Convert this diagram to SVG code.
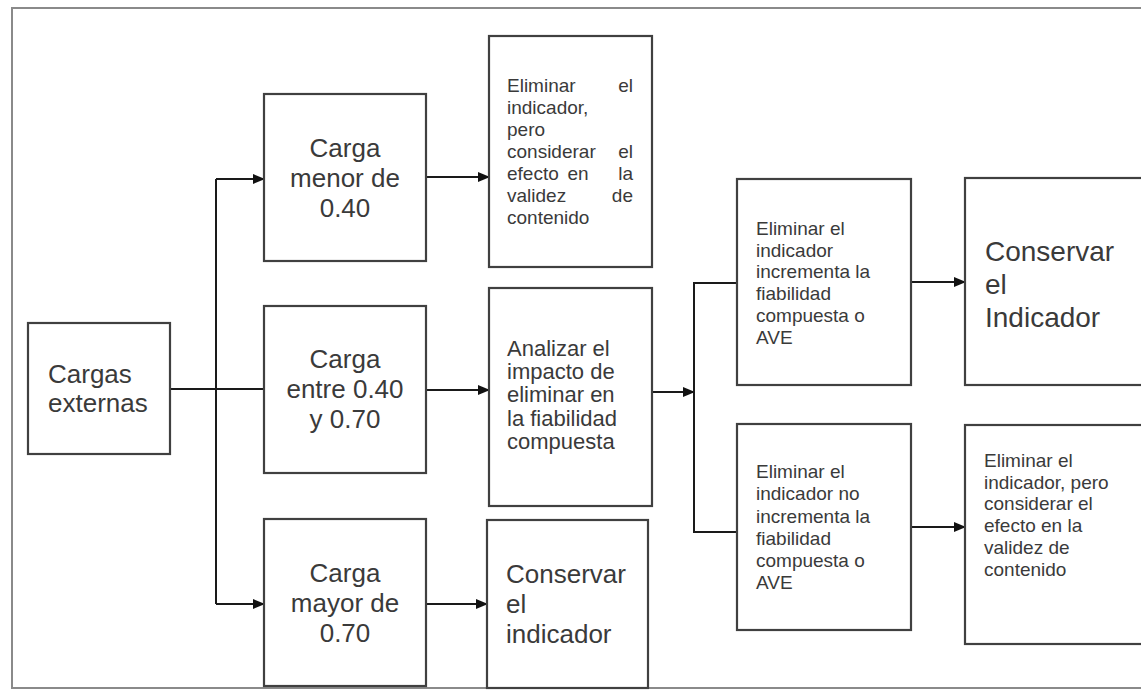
<svg xmlns="http://www.w3.org/2000/svg" width="1141" height="692" viewBox="0 0 1141 692">
<style>
.frame{fill:none;stroke:#8a8a8a;stroke-width:2}
.box{fill:#fff;stroke:#404040;stroke-width:2.2}
.big{font-family:"Liberation Sans",Arial,sans-serif;font-size:26px;fill:#3a3a3a}
.big28{font-family:"Liberation Sans",Arial,sans-serif;font-size:28px;fill:#3a3a3a}
.mid{font-family:"Liberation Sans",Arial,sans-serif;font-size:22px;fill:#3a3a3a}
.sm{font-family:"Liberation Sans",Arial,sans-serif;font-size:19px;fill:#3a3a3a}
.c{text-anchor:middle}
.e{text-anchor:end}
.ln{fill:none;stroke:#1a1a1a;stroke-width:2}
</style>
<defs>
<marker id="ah" markerUnits="userSpaceOnUse" markerWidth="12" markerHeight="10" refX="11" refY="5" orient="auto">
<path d="M0,0 L12,5 L0,10 Z" fill="#111"/>
</marker>
</defs>
<rect width="1141" height="692" fill="#fff"/>
<rect class="frame" x="12" y="8" width="1150" height="680"/>

<g id="connectors">
<line class="ln" x1="170" y1="389" x2="264" y2="389"/>
<line class="ln" x1="216" y1="179" x2="216" y2="604"/>
<line class="ln" x1="216" y1="179" x2="264" y2="179" marker-end="url(#ah)"/>
<line class="ln" x1="216" y1="604" x2="264" y2="604" marker-end="url(#ah)"/>
<line class="ln" x1="426" y1="177" x2="489" y2="177" marker-end="url(#ah)"/>
<line class="ln" x1="426" y1="390" x2="489" y2="390" marker-end="url(#ah)"/>
<line class="ln" x1="426" y1="604" x2="487" y2="604" marker-end="url(#ah)"/>
<line class="ln" x1="652" y1="392" x2="694" y2="392" marker-end="url(#ah)"/>
<polyline class="ln" points="737,283 694,283 694,532 737,532"/>
<line class="ln" x1="911" y1="282" x2="965" y2="282" marker-end="url(#ah)"/>
<line class="ln" x1="911" y1="527" x2="965" y2="527" marker-end="url(#ah)"/>
</g>

<g id="cargas-externas">
<rect class="box" x="28" y="323" width="142" height="131"/>
<text class="big" x="48" y="383">Cargas</text>
<text class="big" x="48" y="412">externas</text>
</g>

<g id="carga-menor">
<rect class="box" x="264" y="94" width="162" height="167"/>
<text class="big c" x="345" y="157">Carga</text>
<text class="big c" x="345" y="187">menor de</text>
<text class="big c" x="345" y="217">0.40</text>
</g>

<g id="carga-entre">
<rect class="box" x="264" y="306" width="162" height="167"/>
<text class="big c" x="345" y="368">Carga</text>
<text class="big c" x="345" y="398">entre 0.40</text>
<text class="big c" x="345" y="428">y 0.70</text>
</g>

<g id="carga-mayor">
<rect class="box" x="264" y="519" width="162" height="167"/>
<text class="big c" x="345" y="582">Carga</text>
<text class="big c" x="345" y="612">mayor de</text>
<text class="big c" x="345" y="642">0.70</text>
</g>

<g id="eliminar-considerar-1">
<rect class="box" x="489" y="36" width="163" height="231"/>
<text class="sm" x="507" y="92">Eliminar</text><text class="sm e" x="633" y="92">el</text>
<text class="sm" x="507" y="114">indicador,</text>
<text class="sm" x="507" y="136">pero</text>
<text class="sm" x="507" y="158">considerar</text><text class="sm e" x="633" y="158">el</text>
<text class="sm" x="507" y="180">efecto</text><text class="sm c" x="578" y="180">en</text><text class="sm e" x="633" y="180">la</text>
<text class="sm" x="507" y="202">validez</text><text class="sm e" x="633" y="202">de</text>
<text class="sm" x="507" y="224">contenido</text>
</g>

<g id="analizar">
<rect class="box" x="489" y="288" width="163" height="218"/>
<text class="mid" x="507" y="356">Analizar el</text>
<text class="mid" x="507" y="379">impacto de</text>
<text class="mid" x="507" y="402">eliminar en</text>
<text class="mid" x="507" y="426">la fiabilidad</text>
<text class="mid" x="507" y="449">compuesta</text>
</g>

<g id="conservar-1">
<rect class="box" x="487" y="520" width="161" height="168"/>
<text class="big" x="506" y="583">Conservar</text>
<text class="big" x="506" y="613">el</text>
<text class="big" x="506" y="643">indicador</text>
</g>

<g id="incrementa">
<rect class="box" x="737" y="179" width="174" height="206"/>
<text class="sm" x="756" y="235">Eliminar el</text>
<text class="sm" x="756" y="257">indicador</text>
<text class="sm" x="756" y="278">incrementa la</text>
<text class="sm" x="756" y="300">fiabilidad</text>
<text class="sm" x="756" y="322">compuesta o</text>
<text class="sm" x="756" y="344">AVE</text>
</g>

<g id="no-incrementa">
<rect class="box" x="737" y="424" width="174" height="206"/>
<text class="sm" x="756" y="478">Eliminar el</text>
<text class="sm" x="756" y="500">indicador no</text>
<text class="sm" x="756" y="523">incrementa la</text>
<text class="sm" x="756" y="545">fiabilidad</text>
<text class="sm" x="756" y="567">compuesta o</text>
<text class="sm" x="756" y="589">AVE</text>
</g>

<g id="conservar-2">
<rect class="box" x="965" y="178" width="200" height="207"/>
<text class="big28" x="985" y="261">Conservar</text>
<text class="big28" x="985" y="294">el</text>
<text class="big28" x="985" y="327">Indicador</text>
</g>

<g id="eliminar-considerar-2">
<rect class="box" x="965" y="425" width="200" height="219"/>
<text class="sm" x="984" y="467">Eliminar el</text>
<text class="sm" x="984" y="489">indicador, pero</text>
<text class="sm" x="984" y="510">considerar el</text>
<text class="sm" x="984" y="532">efecto en la</text>
<text class="sm" x="984" y="554">validez de</text>
<text class="sm" x="984" y="576">contenido</text>
</g>
</svg>
